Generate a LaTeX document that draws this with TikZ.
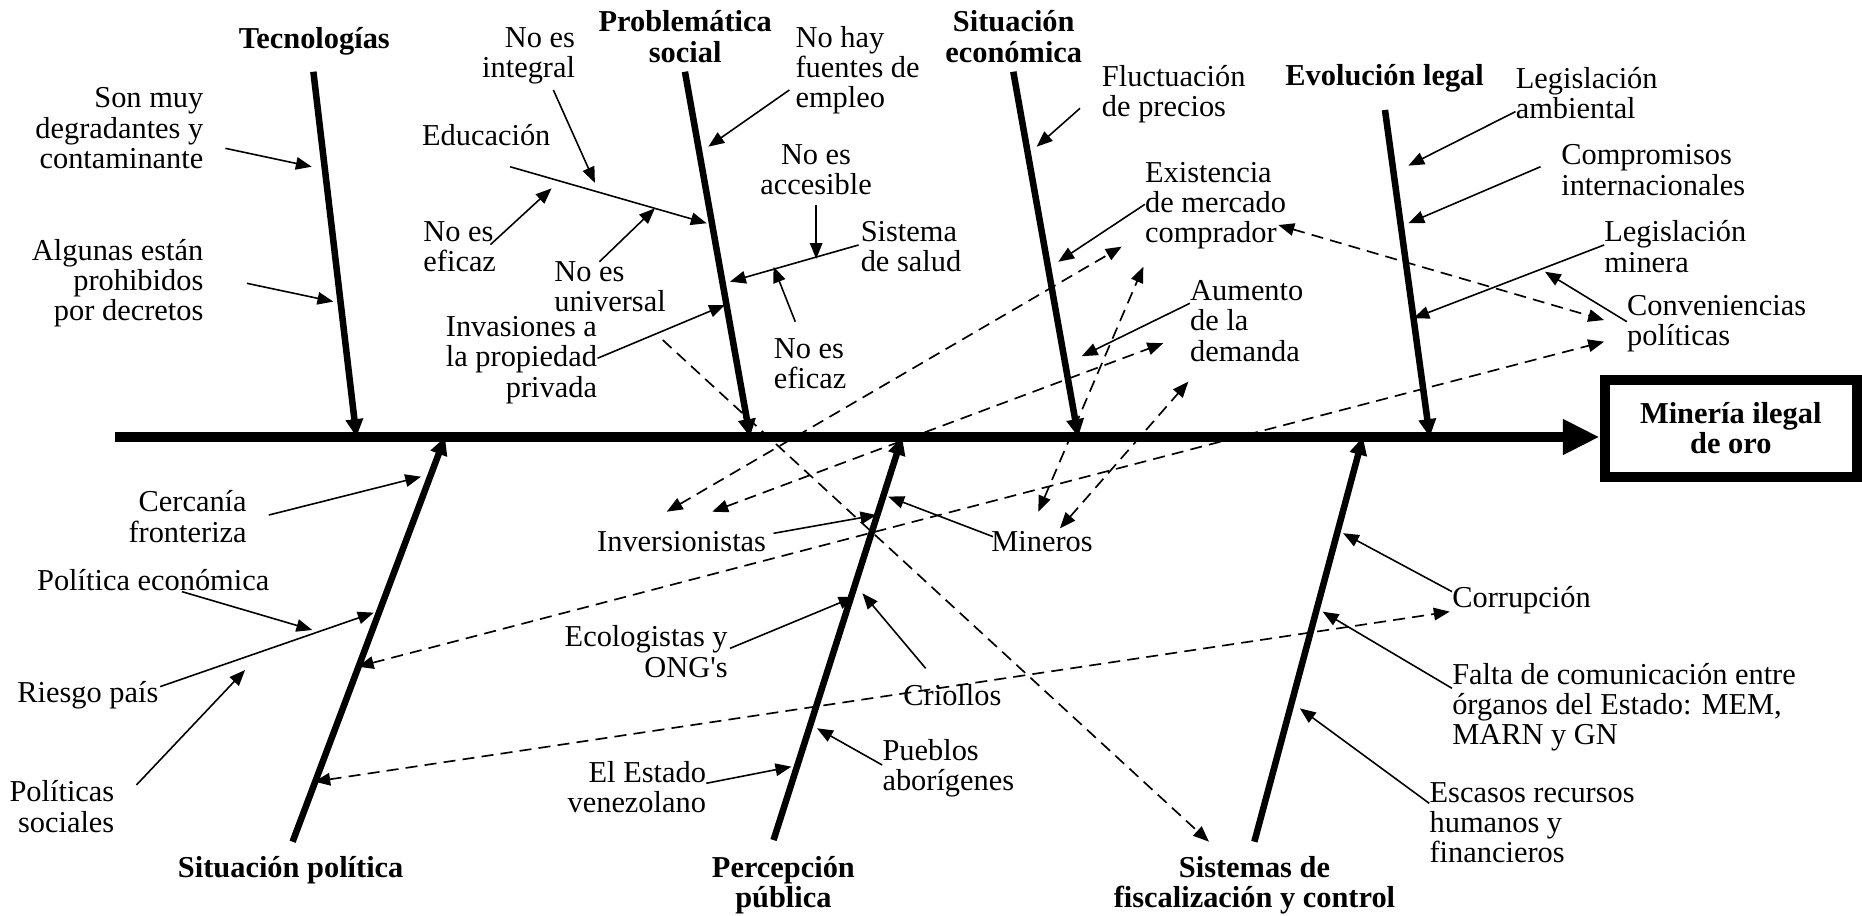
\documentclass[tikz,border=0pt]{standalone}
\usepackage{fontspec}
\setmainfont{Liberation Serif}
\usetikzlibrary{arrows.meta}

\begin{document}
\begin{tikzpicture}[x=0.025cm,y=-0.025cm,
    punta/.tip={Triangle[length=9.5pt,width=7.5pt]},
    txt/.style={inner sep=0pt,font=\fontsize{18.2}{18.1}\selectfont},
    tit/.style={inner sep=0pt,align=center,font=\fontsize{18.2}{18.1}\selectfont\bfseries},
    hueso/.style={line width=3.9pt,-{Triangle[length=10.7pt,width=10pt]}},
    espina/.style={line width=6.4pt,-{Triangle[length=22pt,width=20pt]}},
    flecha/.style={line width=0.95pt,-punta},
    rayas/.style={line width=1pt,dash pattern=on 7.2pt off 4.3pt,punta-punta}]
\useasboundingbox (0,0) rectangle (1568,771);

\foreach \n/\xa/\ya/\xb/\yb in {tec/263.9/60.4/300.2/368, pro/576.8/60.4/631.6/368,
    eco/853.3/60.4/908/368, leg/1166.3/92.6/1204/368, pol/246.4/708.8/374.8/368,
    per/651.4/707.4/759.7/368, sis/1056.3/708.8/1147.7/368} {
    \coordinate (\n-a) at (\xa,\ya);
    \coordinate (\n-b) at (\xb,\yb);
    \draw[hueso] (\n-a) -- (\n-b);
}

\node[draw,line width=6pt,minimum width=5.3125cm,minimum height=2.03cm,tit] (efecto) at (1457.5,360.8) {Minería ilegal\\de oro};
\coordinate (cola) at (97,368);
\draw[espina] (cola) -- (cola -| efecto.west);

\foreach \n/\x/\y/\t in {tecL/264.7/35/{Tecnologías}, proL/577/30.8/{Problemática\\social},
    ecoL/853.7/30.8/{Situación\\económica}, legL/1166/66/{Evolución legal},
    polL/244.8/732.6/{Situación política}, perL/659.7/745.2/{Percepción\\pública},
    sisL/1056.4/745.2/{Sistemas de\\fiscalización y control}}
    \node[tit] (\n) at (\x,\y) {\t};

\foreach \n/\x/\y/\t in {somuy/171.5/108/{Son muy\\degradantes y\\contaminante},
    algunas/171.5/238.6/{Algunas están\\prohibidos\\por decretos},
    integral/484.5/47/{No es\\integral}, invasion/503/303.2/{Invasiones a\\la propiedad\\privada},
    cercania/208/435.1/{Cercanía\\fronteriza}, polsoc/96.5/679.3/{Políticas\\sociales},
    ecolog/613/548.8/{Ecologistas y\\ONG\textquotesingle s}, estado/594.8/662.5/{El Estado\\venezolano}}
    \node[txt,anchor=east,align=right] (\n) at (\x,\y) {\t};

\foreach \n/\x/\y/\t in {eficazA/356.3/207.7/{No es\\eficaz}, universal/466.5/241.4/{No es\\universal},
    nohay/669.7/58.9/{No hay\\fuentes de\\empleo}, salud/724.6/207.7/{Sistema\\de salud},
    eficazB/651.4/306/{No es\\eficaz}, fluct/927.7/79.3/{Fluctuación\\de precios},
    exist/964/173.1/{Existencia\\de mercado\\comprador}, aumento/1002/270.3/{Aumento\\de la\\demanda},
    ambiental/1276.2/78.6/{Legislación\\ambiental}, compromisos/1314.5/143.2/{Compromisos\\internacionales},
    minera/1350.8/207.7/{Legislación\\minera}, conv/1370/272.3/{Conveniencias\\políticas},
    pueblos/742.9/647/{Pueblos\\aborígenes}, corr/1222.7/505.3/{Corrupción},
    falta/1222.7/595.5/{Falta de comunicación entre\\órganos del Estado: MEM,\\MARN y GN},
    escasos/1203.6/692.9/{Escasos recursos\\humanos y\\financieros}}
    \node[txt,anchor=west,align=left] (\n) at (\x,\y) {\t};

\foreach \n/\x/\y/\t in {educ/409.5/113.7/{Educación}, accesible/687.2/143.2/{No es\\accesible},
    poleco/129/488.4/{Política económica}, riesgo/74/585.3/{Riesgo país},
    invers/574/456.1/{Inversionistas}, mineros/877.5/456/{Mineros}, criollos/802/585.3/{Criollos}}
    \node[txt,align=center] (\n) at (\x,\y) {\t};

\foreach \n/\xa/\ya/\xb/\yb in {somuy/189.8/124.9/262.5/140.4, algunas/208/238.6/280.7/254,
    integral/466/75.8/501/154, educ/429.5/140.4/595.1/188, eficazA/413/206/464.5/158.6,
    universal/504.8/220.4/551.5/175.4, nohay/664.7/75.8/596.5/123.5, accesible/687.3/172.6/687.3/218,
    salud/723/206.3/614.7/237.2, eficazB/669.7/270.9/651.4/224.6, invasion/503.2/301.7/610.5/256.8,
    fluct/909.5/91.2/873/123.5, exist/964.2/172/891.2/220.4, aumento/1002/255.4/910.9/300,
    ambiental/1276.2/94/1186/139.5, compromisos/1297.3/140.4/1186/188, minera/1350.8/206.3/1190.2/268,
    conv/1370/270.9/1301/228.8, cercania/226.4/433.7/354.6/401.4, poleco/153.2/498.2/263/530.5,
    riesgo/134.9/578.2/314.7/515.9, polsoc/114.9/661/206.4/564.2, invers/651.4/449.1/738/433.7,
    mineros/836.2/451.9/748/418.2, ecolog/614.7/546/719.6/502.5, criollos/779.5/562.8/726.3/499.6,
    pueblos/742.9/644.2/688/613.3, estado/594.8/659.6/666.4/645.6, corr/1222.7/498.2/1131/449,
    falta/1222.7/579.6/1113.8/515.1, escasos/1203.6/676.5/1094.6/596.5} {
    \coordinate (\n-i) at (\xa,\ya);
    \coordinate (\n-f) at (\xb,\yb);
    \draw[flecha] (\n-i) -- (\n-f);
}

\foreach \n/\xa/\ya/\xb/\yb in {r1/1076.5/189.5/1350.8/269.5, r3/561.5/430.9/944.6/207.7,
    r4/599.8/430.9/979.6/289, r5/874.4/430.9/962.8/224.6, r6/892.6/444.9/1000.7/321.4,
    r7/301.3/561.4/1350.8/287.7, r8/264.7/658.2/1220.8/515.1} {
    \coordinate (\n-i) at (\xa,\ya);
    \coordinate (\n-f) at (\xb,\yb);
    \draw[rayas] (\n-i) -- (\n-f);
}
\coordinate (r2-i) at (558.1,286.3);
\coordinate (r2-f) at (1018.1,708.8);
\draw[rayas,-punta] (r2-i) -- (r2-f);
\end{tikzpicture}
\end{document}
